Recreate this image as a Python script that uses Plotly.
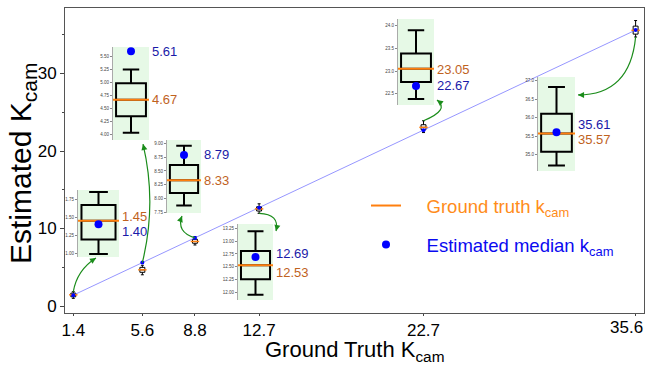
import plotly.graph_objects as go

# ---------------- data ----------------
gt = [1.4, 5.6, 8.8, 12.7, 22.7, 35.6]
tick_text = ["1.4", "5.6", "8.8", "12.7", "22.7", "35.6"]
box_lower = [0.99, 4.03, 7.874, 11.96, 22.38, 34.71]
box_q1 = [1.19, 4.35, 8.10, 12.26, 22.76, 35.08]
gt_line = [1.45, 4.67, 8.33, 12.53, 23.05, 35.57]      # orange line value (label)
box_q3 = [1.667, 4.99, 8.61, 12.81, 23.39, 36.11]
box_upper = [1.847, 5.256, 8.958, 13.19, 23.90, 36.83]
est_median = [1.40, 5.61, 8.79, 12.69, 22.67, 35.61]    # blue dot value (label)
y_ticks_main = [0, 10, 20, 30]
x_title = "Ground Truth K<sub>cam</sub>"
y_title = "Estimated K<sub>cam</sub>"

# ---------------- layout constants ----------------
W, H = 647, 366
ML, MR, MT, MB = 65, 3, 8, 53
PW, PH = W - ML - MR, H - MT - MB
XR = [0.895, 36.11]
YR = [-0.90, 38.45]
SX = PW / (XR[1] - XR[0])
SY = PH / (YR[1] - YR[0])
FONT = "Liberation Sans, Arial, sans-serif"
ORANGE = "#ff7f0e"
BLUE = "#0000ff"
LBL_OR = "#c0621e"
LBL_BL = "#1a1aa8"
GREEN = "#1a8c1a"


def px2paper(px, py):
    return (px - ML) / PW, (MT + PH - py) / PH


# inset boxes in pixel space (left, top, right, bottom)
inset_px = [
    (78, 190, 119, 257),
    (113, 47, 149, 140),
    (167, 140, 201, 213),
    (238, 224, 273, 300),
    (398, 19, 434, 105),
    (538, 77, 575, 171),
]
inset_ranges = [
    [0.948, 1.875],
    [3.89, 5.69],
    [7.74, 9.06],
    [11.86, 13.33],
    [22.25, 24.15],
    [34.56, 37.10],
]
inset_dtick = [0.25, 0.25, 0.25, 0.25, 0.5, 0.5]
inset_fmt = [".2f", ".2f", ".2f", ".2f", ".1f", ".1f"]
# label pixel offsets (orange, blue)
label_shift = [(4, -7), (0, 0), (0, 0), (-7, 4), (-1, 0), (-6, 8)]

fig = go.Figure()

# diagonal reference line
fig.add_trace(go.Scatter(x=gt, y=gt, mode="lines",
                         line=dict(color="rgba(100,100,255,0.85)", width=0.8),
                         showlegend=False, hoverinfo="skip"))

# small boxes in main axes
fig.add_trace(go.Box(x=gt, q1=box_q1, median=gt_line, q3=box_q3,
                     lowerfence=box_lower, upperfence=box_upper,
                     width=0.3, whiskerwidth=0.6, fillcolor="white",
                     line=dict(color="black", width=1), showlegend=False,
                     boxpoints=False))
fig.add_trace(go.Scatter(x=gt, y=gt_line, mode="markers", showlegend=False,
                         marker=dict(symbol="line-ew", size=6,
                                     line=dict(color=ORANGE, width=1.5))))
fig.add_trace(go.Scatter(x=gt, y=est_median, mode="markers", showlegend=False,
                         marker=dict(color=BLUE, size=4)))

shapes = []
annotations = []
layout_axes = {}

for i in range(len(gt)):
    k = i + 2
    l, t, r, b = inset_px[i]
    x0, y0 = px2paper(l, b)
    x1, y1 = px2paper(r, t)
    layout_axes[f"xaxis{k}"] = dict(domain=[x0, x1], range=[-0.5, 0.5],
                                    visible=False, anchor=f"y{k}",
                                    fixedrange=True)
    layout_axes[f"yaxis{k}"] = dict(domain=[y0, y1], range=inset_ranges[i],
                                    anchor=f"x{k}", dtick=inset_dtick[i],
                                    tick0=0, tickformat=inset_fmt[i],
                                    tickfont=dict(size=4.5, color="#444"),
                                    ticks="outside", ticklen=2, tickwidth=0.5,
                                    tickcolor="#888", showline=True,
                                    linecolor="#aaa", linewidth=1,
                                    showgrid=False, zeroline=False,
                                    automargin=False)
    shapes.append(dict(type="rect", xref=f"x{k} domain", yref=f"y{k} domain",
                       x0=0, x1=1, y0=0, y1=1, fillcolor="#e6f9e6",
                       line=dict(width=0), layer="below"))
    box_px = 0.83 * (r - l)
    fig.add_trace(go.Box(x=[0], q1=[box_q1[i]], median=[gt_line[i]],
                         q3=[box_q3[i]], lowerfence=[box_lower[i]],
                         upperfence=[box_upper[i]], width=0.83,
                         whiskerwidth=0.55, fillcolor="rgba(0,0,0,0)",
                         line=dict(color="black", width=2), boxpoints=False,
                         showlegend=False, xaxis=f"x{k}", yaxis=f"y{k}"))
    fig.add_trace(go.Scatter(x=[0], y=[gt_line[i]], mode="markers",
                             showlegend=False, xaxis=f"x{k}", yaxis=f"y{k}",
                             marker=dict(symbol="line-ew", size=box_px,
                                         line=dict(color=ORANGE, width=2))))
    fig.add_trace(go.Scatter(x=[0], y=[est_median[i]], mode="markers",
                             showlegend=False, xaxis=f"x{k}", yaxis=f"y{k}",
                             marker=dict(color=BLUE, size=8)))
    so, sb = label_shift[i]
    annotations.append(dict(xref=f"x{k} domain", yref=f"y{k}", x=1, y=gt_line[i],
                            text=f"{gt_line[i]:.2f}", showarrow=False,
                            xanchor="left", yanchor="middle", xshift=1, yshift=so,
                            font=dict(size=13, color=LBL_OR, family=FONT)))
    annotations.append(dict(xref=f"x{k} domain", yref=f"y{k}", x=1, y=est_median[i],
                            text=f"{est_median[i]:.2f}", showarrow=False,
                            xanchor="left", yanchor="middle", xshift=1, yshift=sb,
                            font=dict(size=13, color=LBL_BL, family=FONT)))

# curved green arrows (start from data, control/end near insets, in main data units)
arrow_start_y = [box_upper[0], est_median[1], est_median[2], box_lower[3],
                 box_upper[4], box_lower[5]]
arrow_ctrl = [(1.625, 4.65), (6.49, 13.29), (7.65, 9.55), (13.97, 11.87),
              (24.31, 25.29), (35.26, 27.23)]
arrow_end = [(2.78, 6.20), (5.64, 20.90), (8.01, 11.61), (13.73, 9.68),
             (23.52, 26.58), (32.10, 27.23)]
for i in range(len(gt)):
    sx_, sy_ = gt[i], arrow_start_y[i]
    cx, cy = arrow_ctrl[i]
    ex, ey = arrow_end[i]
    shapes.append(dict(type="path", xref="x", yref="y",
                       path=f"M {sx_},{sy_} Q {cx},{cy} {ex},{ey}",
                       line=dict(color=GREEN, width=1.2)))
    dxp = (ex - cx) * SX
    dyp = -(ey - cy) * SY
    n = (dxp ** 2 + dyp ** 2) ** 0.5
    L = 6
    annotations.append(dict(x=ex, y=ey, xref="x", yref="y", text="",
                            showarrow=True, arrowhead=2, arrowsize=1,
                            arrowwidth=1.2, arrowcolor=GREEN, standoff=0,
                            ax=-dxp / n * L, ay=-dyp / n * L))

# last x tick label, kept inside the figure (as in the reference)
annotations.append(dict(x=gt[-1], y=0, xref="x", yref="paper", text=tick_text[-1],
                        showarrow=False, xanchor="right", yanchor="top",
                        xshift=9, yshift=-3, font=dict(size=17, family=FONT)))
shown_ticks = tick_text[:-1] + [""]

# axis titles
tx, ty = px2paper(355, 351)
annotations.append(dict(x=tx, y=ty, xref="paper", yref="paper", text=x_title,
                        showarrow=False, xanchor="center", yanchor="middle",
                        font=dict(size=22, family=FONT)))
tx, ty = px2paper(22, 164)
annotations.append(dict(x=tx, y=ty, xref="paper", yref="paper", text=y_title,
                        showarrow=False, xanchor="center", yanchor="middle",
                        textangle=-90, font=dict(size=30, family=FONT)))

# legend-only traces
NB = "\u00a0" * 4
fig.add_trace(go.Scatter(x=[None], y=[None], mode="lines",
                         line=dict(color=ORANGE, width=2), legendgroup="a",
                         name=NB + '<span style="color:#ff8c1a">Ground truth k<sub>cam</sub></span>'))
fig.add_trace(go.Scatter(x=[None], y=[None], mode="markers",
                         marker=dict(color=BLUE, size=8), legendgroup="b",
                         name=NB + '<span style="color:#0a0af0">Estimated median k<sub>cam</sub></span>'))

lx, ly = px2paper(366, 187)

fig.update_layout(
    width=W, height=H,
    margin=dict(l=ML, r=MR, t=MT, b=MB, pad=0),
    paper_bgcolor="white", plot_bgcolor="rgba(0,0,0,0)",
    font=dict(family=FONT, color="black"),
    boxmode="overlay",
    showlegend=True,
    legend=dict(x=lx, y=ly, xanchor="left", yanchor="top",
                font=dict(size=18.5, family=FONT), bgcolor="rgba(0,0,0,0)",
                traceorder="grouped", tracegroupgap=12),
    xaxis=dict(range=XR, tickvals=gt, ticktext=shown_ticks, ticks="outside",
               ticklen=2, tickcolor="#444", showline=True, linecolor="#555",
               linewidth=1, mirror=True, showgrid=False, zeroline=False,
               tickfont=dict(size=17), automargin=False),
    yaxis=dict(range=YR, tickvals=y_ticks_main, ticks="outside", ticklen=4,
               tickcolor="#444", showline=True, linecolor="#555", linewidth=1,
               mirror=True, showgrid=False, zeroline=False,
               tickfont=dict(size=17), automargin=False,
               minor=dict(dtick=5, ticks="outside", ticklen=2, tickcolor="#444")),
    shapes=shapes,
    annotations=annotations,
    **layout_axes,
)

fig.write_html("out.html")
